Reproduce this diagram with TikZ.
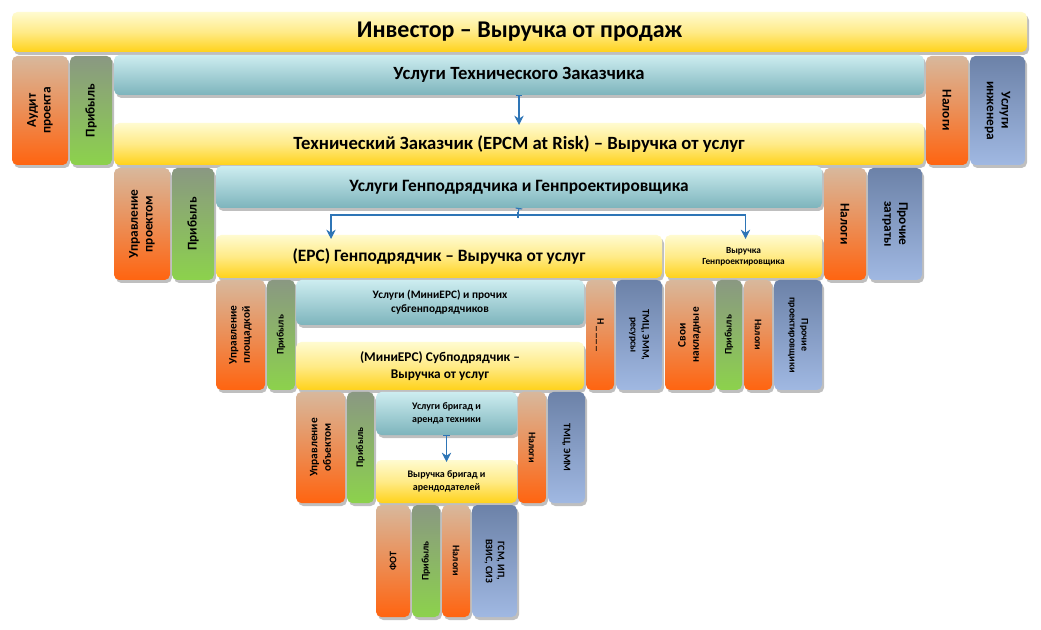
\documentclass[tikz,border=0pt]{standalone}
\usepackage{fontspec}
\setmainfont{Carlito}
\usetikzlibrary{arrows.meta}
\definecolor{ylT}{HTML}{FFFBD0}\definecolor{ylB}{HTML}{FFD21A}
\definecolor{orT}{HTML}{D8B89C}\definecolor{orB}{HTML}{FF6410}
\definecolor{grT}{HTML}{8A9882}\definecolor{grB}{HTML}{8CD24C}
\definecolor{blT}{HTML}{6C82A8}\definecolor{blB}{HTML}{A0B8E2}
\definecolor{tlT}{HTML}{CDEDF0}\definecolor{tlB}{HTML}{7DB4BC}
\definecolor{arr}{HTML}{2E75B6}
\tikzset{
 yl/.style={top color=ylT,bottom color=ylB,middle color=ylT!60!ylB},
 orb/.style={top color=orT,bottom color=orB},
 grb/.style={top color=grT,bottom color=grB},
 blb/.style={top color=blT,bottom color=blB},
 tlb/.style={top color=tlT,bottom color=tlB},
 txt/.style={font=\bfseries,align=center,inner sep=1pt},
 con/.style={arr,thick,{Bar[width=5pt]}-{Stealth[length=7pt,width=7pt]}},
}
% name x1 y1 x2 y2 style text rotation fontsize
\newcommand\bx[9]{%
 \fill[black,opacity=0.25,rounded corners=4pt] (#2+2,#3+3) rectangle (#4+2,#5+3);
 \shade[#6,rounded corners=4pt] (#2,#3) rectangle (#4,#5);
 \coordinate (#1-n) at ({(#2+#4)/2},#3);
 \coordinate (#1-s) at ({(#2+#4)/2},#5);
 \node[txt,rotate=#8,font=\bfseries#9] (#1) at ({(#2+#4)/2},{(#3+#5)/2}) {#7};}
\begin{document}
\begin{tikzpicture}[x=0.75pt,y=-0.75pt]
\useasboundingbox[fill=white] (0,0) rectangle (1041,630);
\bx{inv}{12}{12}{1027}{52}{yl}{Инвестор – Выручка от продаж}{0}{\fontsize{18}{20}\selectfont}
% level 1
\bx{aud}{12}{56}{68}{165}{orb}{Аудит\\проекта}{90}{\fontsize{10}{11}\selectfont}
\bx{pr1}{70}{56}{112}{165}{grb}{Прибыль}{90}{\fontsize{10}{11}\selectfont}
\bx{utz}{114}{55}{924}{95}{tlb}{Услуги Технического Заказчика}{0}{\fontsize{14}{16}\selectfont}
\bx{tz}{114}{123}{924}{165}{yl}{Технический Заказчик (EPCM at Risk) – Выручка от услуг}{0}{\fontsize{14}{16}\selectfont}
\bx{nl1}{926}{56}{968}{165}{orb}{Налоги}{-90}{\fontsize{10}{11}\selectfont}
\bx{ui}{970}{56}{1025}{165}{blb}{Услуги\\инженера}{-90}{\fontsize{10}{11}\selectfont}
% level 2
\bx{up}{114}{168}{170}{280}{orb}{Управление\\проектом}{90}{\fontsize{10}{11}\selectfont}
\bx{pr2}{172}{168}{214}{280}{grb}{Прибыль}{90}{\fontsize{10}{11}\selectfont}
\bx{ugp}{216}{166}{822}{208}{tlb}{Услуги Генподрядчика и Генпроектировщика}{0}{\fontsize{13}{15}\selectfont}
\bx{epc}{216}{235}{662}{278}{yl}{(EPC) Генподрядчик – Выручка от услуг}{0}{\fontsize{13}{15}\selectfont}
\bx{vgp}{665}{235}{822}{278}{yl}{Выручка\\Генпроектировщика}{0}{\fontsize{7}{8.5}\selectfont}
\bx{nl2}{824}{168}{866}{280}{orb}{Налоги}{-90}{\fontsize{10}{11}\selectfont}
\bx{pz}{868}{168}{922}{280}{blb}{Прочие\\затраты}{-90}{\fontsize{10}{11}\selectfont}
% level 3
\bx{upl}{216}{280}{265}{390}{orb}{Управление\\площадкой}{90}{\fontsize{8.5}{10}\selectfont}
\bx{pr3}{267}{280}{295}{390}{grb}{Прибыль}{90}{\fontsize{7.5}{9}\selectfont}
\bx{umi}{296}{280}{584}{325}{tlb}{Услуги (МиниEPC) и прочих\\субгенподрядчиков}{0}{\fontsize{8.5}{10.5}\selectfont}
\bx{mini}{296}{342}{584}{390}{yl}{(МиниEPC) Субподрядчик –\\Выручка от услуг}{0}{\fontsize{10}{12.5}\selectfont}
\bx{nl3}{586}{280}{614}{390}{orb}{Н\,\_\,\_\,\_\,\_}{-90}{\fontsize{7.5}{9}\selectfont}
\bx{tmr}{616}{280}{662}{390}{blb}{ТМЦ, ЭММ,\\ресурсы}{-90}{\fontsize{7.5}{9}\selectfont}
\bx{sn}{665}{280}{714}{390}{orb}{Свои\\накладные}{90}{\fontsize{8.5}{10}\selectfont}
\bx{pr4}{716}{280}{742}{390}{grb}{Прибыль}{90}{\fontsize{7.5}{9}\selectfont}
\bx{nl4}{744}{280}{772}{390}{orb}{Налоги}{-90}{\fontsize{7.5}{9}\selectfont}
\bx{ppr}{774}{280}{822}{390}{blb}{Прочие\\проектировщики}{-90}{\fontsize{7.5}{9}\selectfont}
% level 4
\bx{uo}{296}{392}{345}{503}{orb}{Управление\\объектом}{90}{\fontsize{8.5}{10}\selectfont}
\bx{pr5}{347}{392}{374}{503}{grb}{Прибыль}{90}{\fontsize{7.5}{9}\selectfont}
\bx{ubr}{376}{392}{517}{435}{tlb}{Услуги бригад и\\аренда техники}{0}{\fontsize{7.5}{9.5}\selectfont}
\bx{vbr}{376}{460}{517}{503}{yl}{Выручка бригад и\\арендодателей}{0}{\fontsize{7.5}{9.5}\selectfont}
\bx{nl5}{518}{392}{546}{503}{orb}{Налоги}{-90}{\fontsize{7.5}{9}\selectfont}
\bx{tm}{548}{392}{585}{503}{blb}{ТМЦ, ЭММ}{-90}{\fontsize{7.5}{9}\selectfont}
% level 5
\bx{fot}{376}{505}{410}{617}{orb}{ФОТ}{90}{\fontsize{7.5}{9}\selectfont}
\bx{pr6}{412}{505}{440}{617}{grb}{Прибыль}{90}{\fontsize{7.5}{9}\selectfont}
\bx{nl6}{442}{505}{470}{617}{orb}{Налоги}{-90}{\fontsize{7.5}{9}\selectfont}
\bx{gsm}{472}{505}{517}{617}{blb}{ГСМ, ИП,\\ВЗИС, СИЗ}{-90}{\fontsize{7.5}{9}\selectfont}
% connectors
\draw[con] (utz-s) -- ([yshift=-1.5]tz-n);
\coordinate (j) at (518,215);
\draw[arr,thick,{Bar[width=5pt]}-] (ugp-s) -- (j);
\draw[con] (j) -| ([xshift=-81,yshift=-3]epc-n);
\draw[con] (j) -| ([xshift=1.5,yshift=-3]vgp-n);
\draw[con] (ubr-s) -- ([xshift=0,yshift=-1.5]vbr-n);
\end{tikzpicture}
\end{document}
